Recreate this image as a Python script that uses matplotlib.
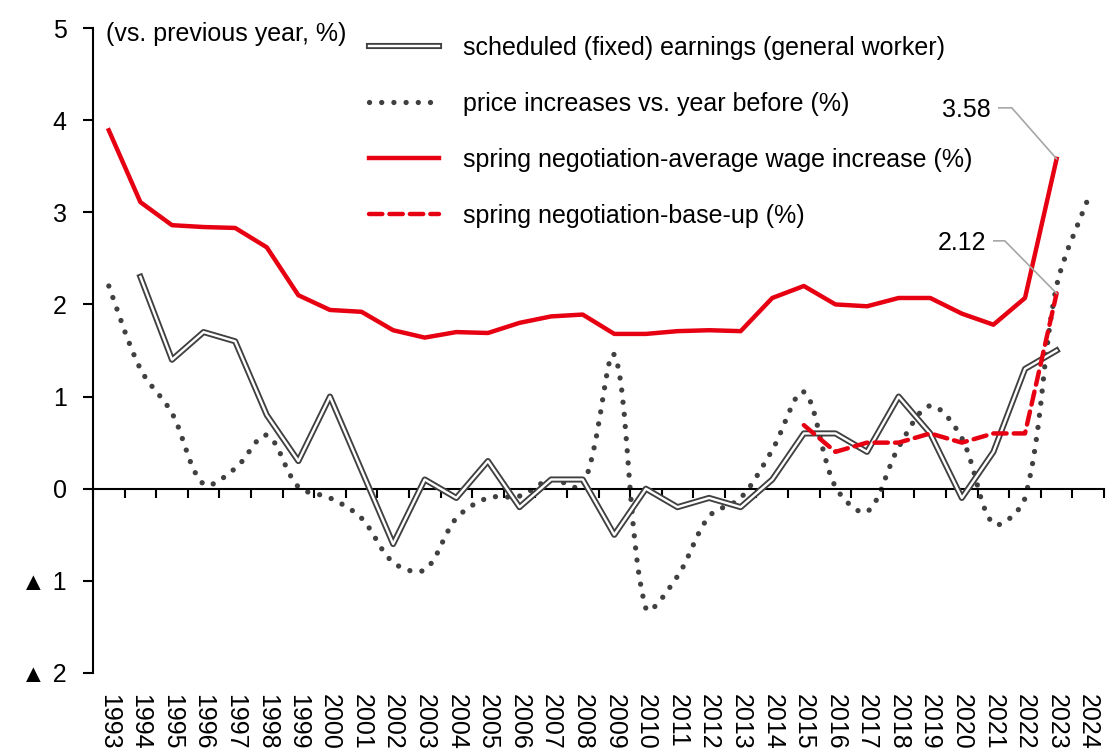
#!/usr/bin/env python3
"""Wages vs prices in Japan, 1993-2024 (vs. previous year, %)."""

import numpy as np
import matplotlib

matplotlib.use("Agg")
import matplotlib.pyplot as plt
import matplotlib.patheffects as pe
from matplotlib.lines import Line2D
from matplotlib.path import Path
from matplotlib.patches import PathPatch

nan = np.nan

YEARS = list(range(1993, 2025))

# scheduled (fixed) earnings, general worker
scheduled = [nan, 2.3, 1.4, 1.7, 1.6, 0.8, 0.3, 1.0, 0.2, -0.6, 0.1, -0.1,
             0.3, -0.2, 0.1, 0.1, -0.5, 0.0, -0.2, -0.1, -0.2, 0.1, 0.6,
             0.6, 0.4, 1.0, 0.6, -0.1, 0.4, 1.3, 1.5, nan]
# price increases vs. year before
prices = [2.2, 1.3, 0.82, 0.05, 0.22, 0.58, 0.02, -0.1, -0.32, -0.8, -0.88,
          -0.32, -0.1, -0.08, 0.1, 0.03, 1.45, -1.3, -0.95, -0.3, -0.1, 0.42,
          1.05, 0.02, -0.25, 0.45, 0.9, 0.55, -0.38, -0.1, 2.2, 3.15]
# spring negotiation - average wage increase
wage_avg = [3.89, 3.11, 2.86, 2.84, 2.83, 2.62, 2.10, 1.94, 1.92, 1.72, 1.64,
            1.70, 1.69, 1.80, 1.87, 1.89, 1.68, 1.68, 1.71, 1.72, 1.71, 2.07,
            2.20, 2.00, 1.98, 2.07, 2.07, 1.90, 1.78, 2.07, 3.58, nan]
# spring negotiation - base-up
base_up = [nan] * 22 + [0.69, 0.40, 0.50, 0.50, 0.60, 0.50, 0.60, 0.60,
                        2.12, nan]

LABELS = [
    "scheduled (fixed) earnings (general worker)",
    "price increases vs. year before (%)",
    "spring negotiation-average wage increase (%)",
    "spring negotiation-base-up (%)",
]

RED = "#E60012"
DARK = "#404040"
DOTS = (0, (0.01, 2.3))
DASH = (0, (3, 1.6))

plt.rcParams["font.family"] = ["Liberation Sans", "DejaVu Sans"]
plt.rcParams["font.size"] = 18


def smooth_path(ax, xs, ys):
  # Bezier path through the points, like a spreadsheet "smoothed line":
  # tangents are weighted by the on-screen segment lengths.
  pts = ax.transData.transform(np.column_stack([xs, ys]))
  n = len(pts)
  seg = np.hypot(*np.diff(pts, axis=0).T)
  verts = [pts[0]]
  codes = [Path.MOVETO]
  for i in range(n - 1):
    p0 = pts[max(i - 1, 0)]
    p1 = pts[i]
    p2 = pts[i + 1]
    p3 = pts[min(i + 2, n - 1)]
    l_prev = seg[i - 1] if i > 0 else seg[i]
    l_next = seg[i + 1] if i + 1 < n - 1 else seg[i]
    c1 = p1 + (p2 - p0) * seg[i] / (l_prev + seg[i]) / 3
    c2 = p2 - (p3 - p1) * seg[i] / (seg[i] + l_next) / 3
    verts += [c1, c2, p2]
    codes += [Path.CURVE4] * 3
  verts = ax.transData.inverted().transform(np.array(verts))
  return Path(verts, codes)


def to_x(px):
  # pixel column -> category coordinate (for callout placement only)
  return (px - 93) / 31.6 - 0.5


def to_y(py):
  return (489 - py) / 92.14


def main():
  x = np.arange(len(YEARS))
  fig = plt.figure(figsize=(11.07, 7.52), dpi=100)
  ax = fig.add_axes([93 / 1107, 1 - 673 / 752, 1011 / 1107, 645 / 752])
  ax.set_xlim(-0.5, len(YEARS) - 0.5)
  ax.set_ylim(-2, 5)

  # price line, smoothed and dotted
  patch = PathPatch(smooth_path(ax, x, np.array(prices)), fill=False,
                    edgecolor=DARK, linewidth=3.8, linestyle=DOTS,
                    capstyle="round", zorder=2)
  ax.add_patch(patch)

  # double line for scheduled earnings
  outline = [pe.Stroke(linewidth=4.4, foreground=DARK), pe.Normal()]
  ax.plot(x, scheduled, color="white", linewidth=1.7, zorder=3,
          path_effects=outline)

  ax.plot(x, wage_avg, color=RED, linewidth=3.2, zorder=4)
  ax.plot(x, base_up, color=RED, linewidth=3.2, linestyle=DASH,
          dash_capstyle="round", zorder=4)

  ax.set_xlim(-0.5, len(YEARS) - 0.5)
  ax.set_ylim(-2, 5)
  ax.set_yticks(range(-2, 6))
  ax.set_yticklabels([("\u25b2 " + str(-v)) if v < 0 else str(v)
                      for v in range(-2, 6)])
  ax.tick_params(axis="y", direction="out", length=7, width=1.5, pad=12,
                 labelsize=18)
  ax.spines["top"].set_visible(False)
  ax.spines["right"].set_visible(False)
  ax.spines["left"].set_linewidth(1.5)
  ax.spines["bottom"].set_position(("data", 0))
  ax.spines["bottom"].set_linewidth(1.5)
  ax.set_xticks(np.arange(len(YEARS) + 1) - 0.5)
  ax.tick_params(axis="x", direction="out", length=6.5, width=1.5,
                 labelbottom=False)

  for xi, yr in zip(x, YEARS):
    ax.annotate(str(yr), xy=(xi, 0), xycoords=("data", "axes fraction"),
                xytext=(0, -15), textcoords="offset points", rotation=270,
                ha="center", va="top", fontsize=18, annotation_clip=False)

  ax.annotate("(vs. previous year, %)", xy=(-0.5, 5), xytext=(9, -4),
              textcoords="offset points", ha="left", va="center",
              fontsize=18, annotation_clip=False)

  # value callouts for the latest year
  gray = "#A6A6A6"
  i_last = 30
  for val, tx, ty, k0, k1 in [
      (wage_avg[i_last], to_x(991), to_y(110), to_x(999), to_x(1012)),
      (base_up[i_last], to_x(986), to_y(243), to_x(994), to_x(1005))]:
    ky = ty + 0.02
    ax.plot([k0, k1, x[i_last]], [ky, ky, val], color=gray, linewidth=1.2,
            zorder=5)
    ax.text(tx, ty, f"{val:.2f}", ha="right", va="center", fontsize=18)

  handles = [
      Line2D([], [], color="white", linewidth=1.7, path_effects=outline),
      Line2D([], [], color=DARK, linewidth=3.8, linestyle=DOTS,
             dash_capstyle="round"),
      Line2D([], [], color=RED, linewidth=3.2),
      Line2D([], [], color=RED, linewidth=3.2, linestyle=DASH,
             dash_capstyle="round"),
  ]
  fig.legend(handles, LABELS, loc="upper left",
             bbox_to_anchor=(369 / 1107, 1 - 36 / 752), frameon=False,
             fontsize=18, handlelength=2.8, handletextpad=0.95,
             labelspacing=1.28, borderpad=0, borderaxespad=0)

  fig.savefig("out.png", dpi=100)
  plt.close(fig)


if __name__ == "__main__":
  main()
